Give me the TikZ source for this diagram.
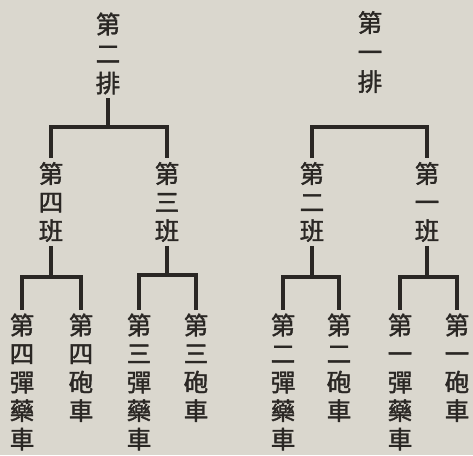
\documentclass[tikz,border=0pt]{standalone}
\usepackage{fontspec}
\newfontfamily\cjk{Noto Sans CJK TC}[FakeBold=1.6]
\definecolor{paper}{HTML}{DAD7CE}
\definecolor{ink}{HTML}{2A2724}

\begin{document}
\begin{tikzpicture}[
x=1pt, y=-1pt,
    unit/.style={text=ink, align=center, inner sep=0pt, outer sep=4pt,
        font=\cjk\fontsize{24.5}{28.5}\selectfont},
    top/.style={unit, font=\cjk\fontsize{24.5}{29.5}\selectfont},
    link/.style={draw=ink, line width=3.2pt},
]
\fill[paper] (0,0) rectangle (473,455);

% platoons
\node[top] (p2) at (108,53.5) {第\\二\\排};
\node[top] (p1) at (370,52) {第\\一\\排};

% squads
\node[unit] (b4) at (51,202) {第\\四\\班};
\node[unit] (b3) at (167,202) {第\\三\\班};
\node[unit] (b2) at (312,202) {第\\二\\班};
\node[unit] (b1) at (427,202) {第\\一\\班};

% wagons
\node[unit] (amm4) at (22,382)   {第\\四\\彈\\藥\\車};
\node[unit] (gun4) at (81,367.75) {第\\四\\砲\\車};
\node[unit] (amm3) at (139,382)  {第\\三\\彈\\藥\\車};
\node[unit] (gun3) at (196,367.75) {第\\三\\砲\\車};
\node[unit] (amm2) at (283,382)  {第\\二\\彈\\藥\\車};
\node[unit] (gun2) at (339,367.75) {第\\二\\砲\\車};
\node[unit] (amm1) at (400,382)  {第\\一\\彈\\藥\\車};
\node[unit] (gun1) at (457,367.75) {第\\一\\砲\\車};

\coordinate (jp2) at (108,127);
\coordinate (jp1) at (370,127);
\coordinate (jb4) at (51,277);
\coordinate (jb3) at (167,275);
\coordinate (jb2) at (312,277);
\coordinate (jb1) at (427,277);

\draw[link] (p2) -- (jp2);
\draw[link] (b4.north) |- (jp2) -| (b3.north);
\draw[link] (b2.north) |- (jp1) -| (b1.north);

\draw[link] (b4) -- (jb4);
\draw[link] (amm4.north) |- (jb4) -| (gun4.north);
\draw[link] (b3) -- (jb3);
\draw[link] (amm3.north) |- (jb3) -| (gun3.north);
\draw[link] (b2) -- (jb2);
\draw[link] (amm2.north) |- (jb2) -| (gun2.north);
\draw[link] (b1) -- (jb1);
\draw[link] (amm1.north) |- (jb1) -| (gun1.north);
%
\end{tikzpicture}
\end{document}
